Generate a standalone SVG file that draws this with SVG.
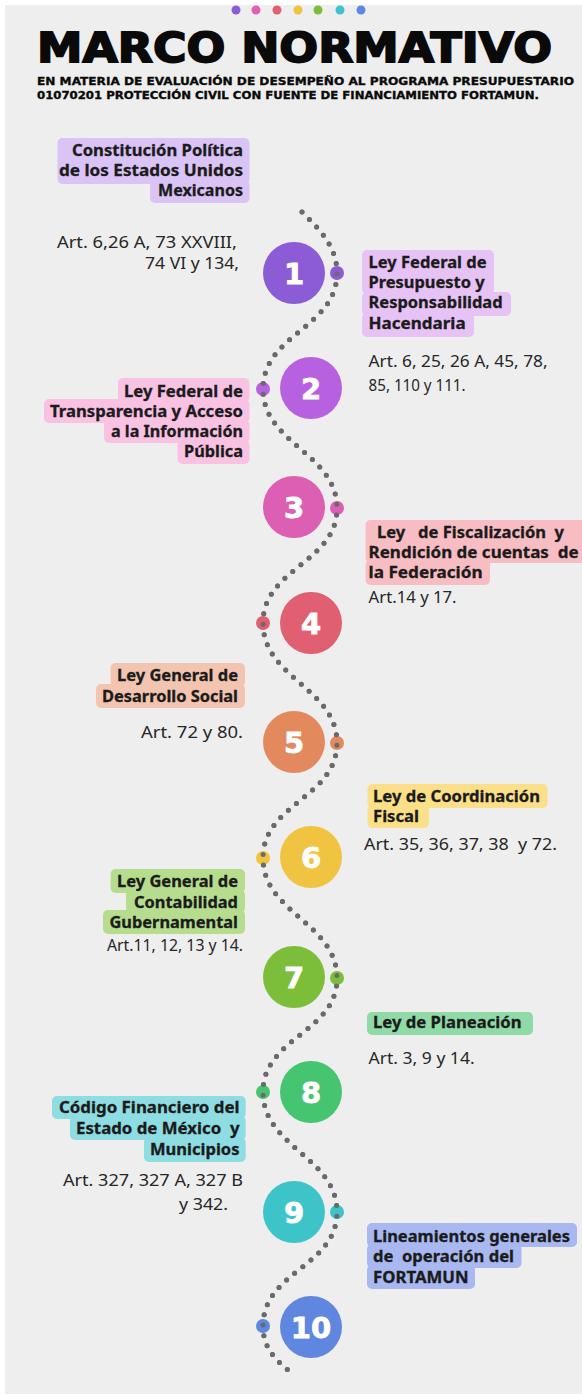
<svg xmlns="http://www.w3.org/2000/svg" width="582" height="1395" viewBox="0 0 582 1395">
<style>
.bt{font-family:"Noto Sans","DejaVu Sans",sans-serif;font-weight:700;font-size:15.5px;fill:#1b1b1b;stroke:#1b1b1b;stroke-width:0.3;white-space:pre}
.at{font-family:"Noto Sans","DejaVu Sans",sans-serif;font-weight:400;font-size:15.5px;fill:#262626;white-space:pre}
.num{font-family:"DejaVu Sans","Noto Sans",sans-serif;font-weight:700;font-size:29px;fill:#ffffff;stroke:#ffffff;stroke-width:0.8;text-anchor:middle}
.path{fill:none;stroke:#6a6a6a;stroke-width:5;stroke-linecap:round;stroke-dasharray:0 10.5}
.sub{font-family:"DejaVu Sans",sans-serif;font-weight:700;font-size:11px;fill:#0a0a0a;stroke:#0a0a0a;stroke-width:0.35}
</style>
<rect x="0" y="0" width="582" height="1395" fill="#ffffff"/>
<rect x="5" y="5" width="577" height="1389" fill="#eeeeee"/>

<g id="header">
  <circle cx="236" cy="10" r="4.5" fill="#8b5cd6"/>
  <circle cx="256" cy="10" r="4.5" fill="#de5fb5"/>
  <circle cx="277" cy="10" r="4.5" fill="#e0606f"/>
  <circle cx="298" cy="10" r="4.5" fill="#f0c340"/>
  <circle cx="318" cy="10" r="4.5" fill="#7cbd3a"/>
  <circle cx="340" cy="10" r="4.5" fill="#3cc4c9"/>
  <circle cx="361" cy="10" r="4.5" fill="#6087e0"/>
  <text x="37" y="62" font-family="'DejaVu Sans',sans-serif" font-weight="900" font-size="41" fill="#0a0a0a" stroke="#0a0a0a" stroke-width="1.8" textLength="515" lengthAdjust="spacingAndGlyphs">MARCO NORMATIVO</text>
  <text class="sub" x="37" y="85" textLength="537" lengthAdjust="spacingAndGlyphs">EN MATERIA DE EVALUACIÓN DE DESEMPEÑO AL PROGRAMA PRESUPUESTARIO</text>
  <text class="sub" x="37" y="99" textLength="502" lengthAdjust="spacingAndGlyphs">01070201 PROTECCIÓN CIVIL CON FUENTE DE FINANCIAMIENTO FORTAMUN.</text>
</g>

<g id="connectors">
  <path class="path" d="M302,212 C319,229 337,246 337,273 C337,328 263,334 263,389 C263,444 337,453 337,508 C337,563 263,568 263,623 C263,678 337,688 337,743 C337,798 263,803 263,858 C263,913 337,923 337,978 C337,1033 263,1037 263,1092 C263,1147 337,1157 337,1212 C337,1267 263,1271 263,1326 C263,1350 278,1362 293,1374"/>
</g>

<g id="step1">
  <circle cx="294" cy="273" r="31" fill="#8b5cd6"/>
  <circle cx="337" cy="273" r="7" fill="#8b5cd6"/>
  <text class="num" x="294" y="284">1</text>
</g>
<g id="step2">
  <circle cx="311" cy="388" r="31" fill="#b861e0"/>
  <circle cx="263" cy="389" r="7" fill="#b861e0"/>
  <text class="num" x="311" y="399">2</text>
</g>
<g id="step3">
  <circle cx="294" cy="507" r="31" fill="#dd5fb3"/>
  <circle cx="337" cy="508" r="7" fill="#dd5fb3"/>
  <text class="num" x="294" y="518">3</text>
</g>
<g id="step4">
  <circle cx="311" cy="623" r="31" fill="#e05f70"/>
  <circle cx="263" cy="623" r="7" fill="#e05f70"/>
  <text class="num" x="311" y="634">4</text>
</g>
<g id="step5">
  <circle cx="294" cy="742" r="31" fill="#e3895e"/>
  <circle cx="337" cy="743" r="7" fill="#e3895e"/>
  <text class="num" x="294" y="753">5</text>
</g>
<g id="step6">
  <circle cx="311" cy="857" r="31" fill="#f0c340"/>
  <circle cx="263" cy="858" r="7" fill="#f0c340"/>
  <text class="num" x="311" y="868">6</text>
</g>
<g id="step7">
  <circle cx="294" cy="977" r="31" fill="#7cbd3a"/>
  <circle cx="337" cy="978" r="7" fill="#7cbd3a"/>
  <text class="num" x="294" y="988">7</text>
</g>
<g id="step8">
  <circle cx="311" cy="1092" r="31" fill="#45c570"/>
  <circle cx="263" cy="1092" r="7" fill="#45c570"/>
  <text class="num" x="311" y="1103">8</text>
</g>
<g id="step9">
  <circle cx="294" cy="1212" r="31" fill="#3cc4c9"/>
  <circle cx="337" cy="1212" r="7" fill="#3cc4c9"/>
  <text class="num" x="294" y="1223">9</text>
</g>
<g id="step10">
  <circle cx="311" cy="1327" r="31" fill="#6087e0"/>
  <circle cx="263" cy="1326" r="7" fill="#6087e0"/>
  <text class="num" x="311" y="1338">10</text>
</g>

<g id="connectors-overlay">
  <path class="path" d="M302,212 C319,229 337,246 337,273 C337,328 263,334 263,389 C263,444 337,453 337,508 C337,563 263,568 263,623 C263,678 337,688 337,743 C337,798 263,803 263,858 C263,913 337,923 337,978 C337,1033 263,1037 263,1092 C263,1147 337,1157 337,1212 C337,1267 263,1271 263,1326 C263,1350 278,1362 293,1374"/>
</g>

<g id="constitucion">
  <rect x="57.5" y="138" width="192" height="46" rx="5" fill="#dac4f6"/>
  <rect x="150" y="180" width="99.5" height="23" rx="5" fill="#dac4f6"/>
  <text class="bt" x="243" y="156" text-anchor="end" textLength="171" lengthAdjust="spacingAndGlyphs">Constitución Política</text>
  <text class="bt" x="243" y="176" text-anchor="end" textLength="184" lengthAdjust="spacingAndGlyphs">de los Estados Unidos</text>
  <text class="bt" x="243" y="196" text-anchor="end" textLength="85" lengthAdjust="spacingAndGlyphs">Mexicanos</text>
  <text class="at" x="237" y="248" text-anchor="end" textLength="180" lengthAdjust="spacingAndGlyphs">Art. 6,26 A, 73 XXVIII,</text>
  <text class="at" x="239" y="269" text-anchor="end" textLength="94" lengthAdjust="spacingAndGlyphs">74 VI y 134,</text>
</g>

<g id="ley-presupuesto">
  <rect x="362" y="250" width="132" height="44" rx="5" fill="#e6c2f5"/>
  <rect x="362" y="292" width="149" height="24" rx="5" fill="#e6c2f5"/>
  <rect x="362" y="313" width="112" height="24" rx="5" fill="#e6c2f5"/>
  <text class="bt" x="368.6" y="268" textLength="118" lengthAdjust="spacingAndGlyphs">Ley Federal de</text>
  <text class="bt" x="368.6" y="288" textLength="116" lengthAdjust="spacingAndGlyphs">Presupuesto y</text>
  <text class="bt" x="368.6" y="308" textLength="134" lengthAdjust="spacingAndGlyphs">Responsabilidad</text>
  <text class="bt" x="368.6" y="329" textLength="97" lengthAdjust="spacingAndGlyphs">Hacendaria</text>
  <text class="at" x="368.6" y="367" textLength="179" lengthAdjust="spacingAndGlyphs">Art. 6, 25, 26 A, 45, 78,</text>
  <text class="at" x="368.6" y="391" textLength="97" lengthAdjust="spacingAndGlyphs">85, 110 y 111.</text>
</g>

<g id="ley-transparencia">
  <rect x="118" y="378" width="131.5" height="24" rx="5" fill="#f9c2e3"/>
  <rect x="44" y="399" width="205.5" height="24" rx="5" fill="#f9c2e3"/>
  <rect x="104" y="420" width="145.5" height="23" rx="5" fill="#f9c2e3"/>
  <rect x="177.5" y="440" width="72" height="24" rx="5" fill="#f9c2e3"/>
  <text class="bt" x="243" y="397" text-anchor="end" textLength="119" lengthAdjust="spacingAndGlyphs">Ley Federal de</text>
  <text class="bt" x="243" y="417" text-anchor="end" textLength="193" lengthAdjust="spacingAndGlyphs">Transparencia y Acceso</text>
  <text class="bt" x="243" y="437" text-anchor="end" textLength="132" lengthAdjust="spacingAndGlyphs">a la Información</text>
  <text class="bt" x="243" y="457" text-anchor="end" textLength="59" lengthAdjust="spacingAndGlyphs">Pública</text>
</g>

<g id="ley-fiscalizacion">
  <rect x="365.6" y="520" width="220" height="43" rx="5" fill="#f7bdc3"/>
  <rect x="365.6" y="560" width="124.4" height="25" rx="5" fill="#f7bdc3"/>
  <text class="bt" x="377" y="538" textLength="187" lengthAdjust="spacingAndGlyphs">Ley   de Fiscalización  y</text>
  <text class="bt" x="368.6" y="558" textLength="210" lengthAdjust="spacingAndGlyphs">Rendición de cuentas  de</text>
  <text class="bt" x="368.6" y="578" textLength="114" lengthAdjust="spacingAndGlyphs">la Federación</text>
  <text class="at" x="368.6" y="603" textLength="88" lengthAdjust="spacingAndGlyphs">Art.14 y 17.</text>
</g>

<g id="ley-desarrollo">
  <rect x="110.6" y="663" width="134.4" height="24" rx="5" fill="#f3c5b1"/>
  <rect x="96" y="684" width="149" height="24" rx="5" fill="#f3c5b1"/>
  <text class="bt" x="238" y="681" text-anchor="end" textLength="121" lengthAdjust="spacingAndGlyphs">Ley General de</text>
  <text class="bt" x="238" y="702" text-anchor="end" textLength="136" lengthAdjust="spacingAndGlyphs">Desarrollo Social</text>
  <text class="at" x="243" y="738" text-anchor="end" textLength="102" lengthAdjust="spacingAndGlyphs">Art. 72 y 80.</text>
</g>

<g id="ley-coordinacion">
  <rect x="367.5" y="784" width="180" height="24" rx="5" fill="#fbe089"/>
  <rect x="367.5" y="805" width="61.5" height="23" rx="5" fill="#fbe089"/>
  <text class="bt" x="373" y="802" textLength="167" lengthAdjust="spacingAndGlyphs">Ley de Coordinación</text>
  <text class="bt" x="373" y="822" textLength="46" lengthAdjust="spacingAndGlyphs">Fiscal</text>
  <text class="at" x="364" y="850" textLength="193" lengthAdjust="spacingAndGlyphs">Art. 35, 36, 37, 38  y 72.</text>
</g>

<g id="ley-contabilidad">
  <rect x="110.6" y="869" width="134.4" height="24" rx="5" fill="#b6dd8e"/>
  <rect x="126" y="890" width="119" height="23" rx="5" fill="#b6dd8e"/>
  <rect x="103" y="910" width="142" height="24" rx="5" fill="#b6dd8e"/>
  <text class="bt" x="238" y="887" text-anchor="end" textLength="121" lengthAdjust="spacingAndGlyphs">Ley General de</text>
  <text class="bt" x="238" y="908" text-anchor="end" textLength="104" lengthAdjust="spacingAndGlyphs">Contabilidad</text>
  <text class="bt" x="238" y="928" text-anchor="end" textLength="128.5" lengthAdjust="spacingAndGlyphs">Gubernamental</text>
  <text class="at" x="243" y="951" text-anchor="end" textLength="136" lengthAdjust="spacingAndGlyphs">Art.11, 12, 13 y 14.</text>
</g>

<g id="ley-planeacion">
  <rect x="367" y="1012" width="166" height="23" rx="5" fill="#8fdaa7"/>
  <text class="bt" x="373" y="1028" textLength="148.5" lengthAdjust="spacingAndGlyphs">Ley de Planeación</text>
  <text class="at" x="368.6" y="1064" textLength="106" lengthAdjust="spacingAndGlyphs">Art. 3, 9 y 14.</text>
</g>

<g id="codigo-financiero">
  <rect x="52" y="1096" width="193.7" height="23" rx="5" fill="#8edde2"/>
  <rect x="70" y="1116" width="175.7" height="24" rx="5" fill="#8edde2"/>
  <rect x="144" y="1137" width="101.7" height="25" rx="5" fill="#8edde2"/>
  <text class="bt" x="239.5" y="1113" text-anchor="end" textLength="180.5" lengthAdjust="spacingAndGlyphs">Código Financiero del</text>
  <text class="bt" x="239.5" y="1134" text-anchor="end" textLength="163.5" lengthAdjust="spacingAndGlyphs">Estado de México  y</text>
  <text class="bt" x="239.5" y="1155" text-anchor="end" textLength="89.5" lengthAdjust="spacingAndGlyphs">Municipios</text>
  <text class="at" x="243" y="1186" text-anchor="end" textLength="180" lengthAdjust="spacingAndGlyphs">Art. 327, 327 A, 327 B</text>
  <text class="at" x="179" y="1210" textLength="49" lengthAdjust="spacingAndGlyphs">y 342.</text>
</g>

<g id="lineamientos">
  <rect x="367" y="1223" width="210" height="24" rx="5" fill="#a9b8f1"/>
  <rect x="367" y="1244" width="154.5" height="24" rx="5" fill="#a9b8f1"/>
  <rect x="367" y="1265" width="108" height="24" rx="5" fill="#a9b8f1"/>
  <text class="bt" x="373" y="1242" textLength="197" lengthAdjust="spacingAndGlyphs">Lineamientos generales</text>
  <text class="bt" x="373" y="1262" textLength="141" lengthAdjust="spacingAndGlyphs">de  operación del</text>
  <text class="bt" x="373" y="1283" textLength="95.5" lengthAdjust="spacingAndGlyphs">FORTAMUN</text>
</g>
</svg>
